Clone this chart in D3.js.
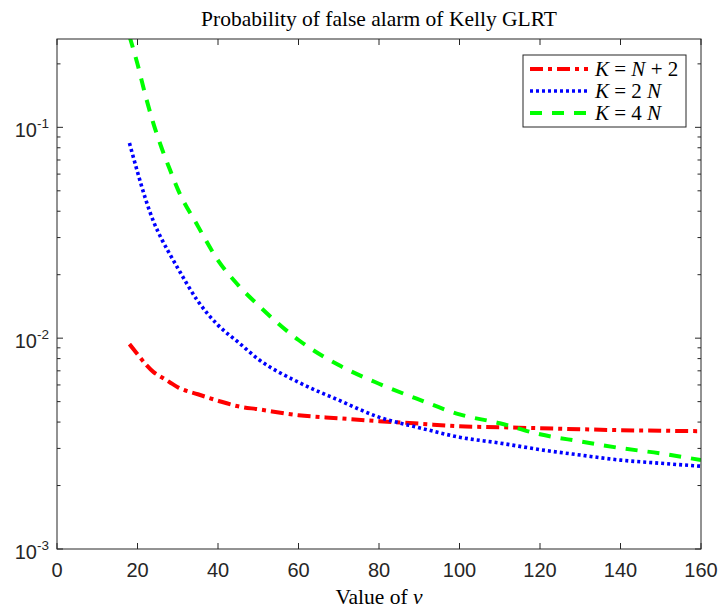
<!DOCTYPE html>
<html>

<head>
  <title>Probability of false alarm of Kelly GLRT</title>
  <meta charset="utf-8" />
  <script src="https://d3js.org/d3.v7.min.js"></script>
  <style>
    body { margin: 0; background: white; }
    .tick-label { font-family: "Liberation Sans", Arial, sans-serif; fill: #262626; }
    .latex { font-family: "Liberation Serif", "Times New Roman", serif; fill: #000; }
  </style>
</head>

<body>
  <svg id="chart" width="723" height="612"></svg>

  <script>
    // values
    const nu = [18, 20, 22, 24, 26, 28, 30, 35, 40, 45, 50, 60, 70, 80, 90, 100, 110, 120, 130, 140, 150, 160];
    const pfaKN2 = [0.00937, 0.00840, 0.00753, 0.00690, 0.00653, 0.00618, 0.00585, 0.00542, 0.00505, 0.00475, 0.00460,
      0.00431, 0.00417, 0.00404, 0.00393, 0.00382, 0.00378, 0.00374, 0.00370, 0.00366, 0.00364, 0.00362];
    const pfa2N = [0.0842, 0.0614, 0.0457, 0.0357, 0.0295, 0.0251, 0.0215, 0.0150, 0.01153, 0.00958, 0.00795,
      0.00618, 0.00508, 0.00422, 0.00376, 0.00339, 0.00318, 0.00296, 0.00279, 0.00264, 0.00255, 0.00247];
    const pfa4N = [0.271, 0.1995, 0.141, 0.1036, 0.0798, 0.0634, 0.0509, 0.0340, 0.0234, 0.01786, 0.01434,
      0.00980, 0.00745, 0.00608, 0.00511, 0.00435, 0.00395, 0.00350, 0.00324, 0.00301, 0.00284, 0.00264];

    const xTicks = [0, 20, 40, 60, 80, 100, 120, 140, 160];
    const yDecades = [-3, -2, -1];

    const series = [
      { name: "KN2", values: pfaKN2, color: "#ff0000", dash: "13,5,4,5", width: 4 },
      { name: "K2N", values: pfa2N, color: "#0000ff", dash: "3,3", width: 3.6 },
      { name: "K4N", values: pfa4N, color: "#00ff00", dash: "12,10", width: 4 }
    ];

    const svg = d3.select("#chart");
    const width = +svg.attr("width");
    const height = +svg.attr("height");
    const margin = { top: 39, right: 22, bottom: 63, left: 57 };
    const plotW = width - margin.left - margin.right;
    const plotH = height - margin.top - margin.bottom;

    const x = d3.scaleLinear().domain([0, 160]).range([0, plotW]);
    const y = d3.scaleLog().domain([1e-3, 0.2624]).range([plotH, 0]);

    const g = svg.append("g").attr("transform", "translate(" + margin.left + "," + margin.top + ")");

    svg.append("defs").append("clipPath").attr("id", "clip")
      .append("rect").attr("width", plotW).attr("height", plotH);

    // curves
    const line = d3.line().x((d, i) => x(nu[i])).y(d => y(d)).curve(d3.curveMonotoneX);
    const curves = g.append("g").attr("clip-path", "url(#clip)");
    series.forEach(s => {
      curves.append("path")
        .datum(s.values)
        .attr("d", line)
        .attr("fill", "none")
        .attr("stroke", s.color)
        .attr("stroke-width", s.width)
        .attr("stroke-dasharray", s.dash);
    });

    // box + ticks (inside, on all four sides like matlab)
    const axisColor = "#262626";
    g.append("rect").attr("width", plotW).attr("height", plotH)
      .attr("fill", "none").attr("stroke", axisColor).attr("stroke-width", 1);

    xTicks.forEach(t => {
      g.append("line").attr("x1", x(t)).attr("x2", x(t)).attr("y1", plotH).attr("y2", plotH - 6)
        .attr("stroke", axisColor);
      g.append("line").attr("x1", x(t)).attr("x2", x(t)).attr("y1", 0).attr("y2", 6)
        .attr("stroke", axisColor);
      g.append("text").attr("class", "tick-label")
        .attr("x", x(t)).attr("y", plotH + 28)
        .attr("text-anchor", "middle").attr("font-size", 20)
        .text(t);
    });

    // log ticks: major at decades, minor at 2..9
    const yTickVals = y.ticks();
    yTickVals.forEach(v => {
      const lg = Math.log10(v);
      const major = Math.abs(lg - Math.round(lg)) < 1e-9;
      const len = major ? 6 : 3.5;
      g.append("line").attr("x1", 0).attr("x2", len).attr("y1", y(v)).attr("y2", y(v)).attr("stroke", axisColor);
      g.append("line").attr("x1", plotW).attr("x2", plotW - len).attr("y1", y(v)).attr("y2", y(v)).attr("stroke", axisColor);
    });

    yDecades.forEach(p => {
      const t = g.append("text").attr("class", "tick-label")
        .attr("x", -8).attr("y", y(Math.pow(10, p)) + 10)
        .attr("text-anchor", "end").attr("font-size", 20);
      t.append("tspan").text("10");
      t.append("tspan").attr("font-size", 13.5).attr("dy", -9).text(String(p));
    });

    // title + x label
    svg.append("text").attr("class", "latex")
      .attr("x", margin.left + plotW / 2).attr("y", 26)
      .attr("text-anchor", "middle").attr("font-size", 21.5)
      .text("Probability of false alarm of Kelly GLRT");

    const xl = svg.append("text").attr("class", "latex")
      .attr("x", margin.left + plotW / 2).attr("y", 604)
      .attr("text-anchor", "middle").attr("font-size", 21.5);
    xl.append("tspan").text("Value of ");
    xl.append("tspan").attr("font-style", "italic").text("\u03bd");

    // legend
    const legend = svg.append("g").attr("transform", "translate(523,55)");
    legend.append("rect").attr("width", 163).attr("height", 72)
      .attr("fill", "white").attr("stroke", axisColor).attr("stroke-width", 1);

    const legendText = [
      [["K", true], [" = ", false], ["N", true], [" + 2", false]],
      [["K", true], [" = 2 ", false], ["N", true]],
      [["K", true], [" = 4 ", false], ["N", true]]
    ];

    series.forEach((s, i) => {
      const ly = 14 + i * 22;
      legend.append("line")
        .attr("x1", 7).attr("x2", 65).attr("y1", ly).attr("y2", ly)
        .attr("stroke", s.color).attr("stroke-width", s.width)
        .attr("stroke-dasharray", s.dash);
      const txt = legend.append("text").attr("class", "latex")
        .attr("x", 72).attr("y", ly + 7).attr("font-size", 21)
        .attr("xml:space", "preserve");
      legendText[i].forEach(part => {
        txt.append("tspan").attr("font-style", part[1] ? "italic" : "normal").text(part[0]);
      });
    });
  </script>
</body>

</html>
